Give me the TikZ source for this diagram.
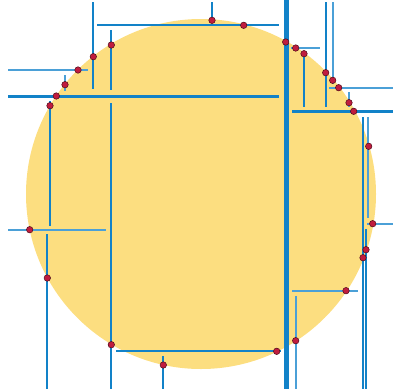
\documentclass[tikz,border=0pt]{standalone}
\usepackage{tikz}
\definecolor{diskyellow}{RGB}{252,222,128}
\definecolor{splitblue}{RGB}{18,130,200}
\definecolor{lightsplit}{RGB}{75,160,215}
\definecolor{pointred}{RGB}{192,28,62}

\begin{document}
\begin{tikzpicture}[x=1pt, y=-1pt,
  splitline/.style={splitblue, line width=#1},
  splitline/.default=1.5pt,
  thinsplit/.style={lightsplit, line width=1.8pt},
  sample/.style={circle, draw=black!60!pointred, fill=pointred, line width=0.5pt, inner sep=0pt, minimum size=6.5pt},
]
  \useasboundingbox (0,0) rectangle (393,389);

  % Sampled disk
  \fill[diskyellow] (201,194) circle (175);

  % Root cut
  \draw[splitline=5pt] (286,0) -- (286,389);

  % Second level
  \draw[splitline=3pt] (8,96) -- (279,96);
  \draw[splitline=3pt] (292,111) -- (393,111);

  % Third level
  \draw[splitline=2pt] (93,2) -- (93,89);
  \draw[splitline=2pt] (111,103) -- (111,389);
  \draw[splitline=2pt] (326,2) -- (326,107);
  \draw[splitline=2pt] (363,117) -- (363,389);

  % Deeper cuts
  \draw[thinsplit] (8,70) -- (88,70);
  \draw[splitline] (97,25) -- (279,25);
  \draw[thinsplit] (8,230) -- (106,230);
  \draw[splitline] (116,351) -- (281,351);
  \draw[thinsplit] (291,48) -- (320,48);
  \draw[thinsplit] (333,2) -- (333,84);
  \draw[thinsplit] (292,291) -- (358,291);
  \draw[thinsplit] (367,224) -- (393,224);

  \draw[thinsplit] (65,75) -- (65,91);
  \draw[splitline] (212,2) -- (212,20);
  \draw[splitline] (111,30) -- (111,90);
  \draw[splitline] (50,101) -- (50,226);
  \draw[splitline] (47,234) -- (47,389);
  \draw[splitline] (163,356) -- (163,389);
  \draw[splitline] (304,53) -- (304,107);
  \draw[thinsplit] (329,88) -- (393,88);
  \draw[thinsplit] (296,296) -- (296,389);
  \draw[thinsplit] (368,117) -- (368,218);
  \draw[thinsplit] (349,92) -- (349,107);
  \draw[splitline] (366,229) -- (366,389);

  % Sample points on the boundary
  \foreach \px/\py [count=\i] in {111.3/45, 93.3/56.7, 78/70, 65/84.7, 56.3/96, 50/105.7,
      212/20.3, 243.7/25.3, 285.7/42, 295.7/48, 304/53.7, 325.7/72.7, 332.7/80.3,
      338.7/87.7, 349/102.7, 353.7/111.3, 29.7/229.7, 368.7/146.3, 372.7/223.7,
      366/249.7, 363/257.7, 47.3/278, 111.3/344.7, 163.3/365, 346/290.7,
      295.7/340.7, 276.7/351.3}
    \node[sample] (p\i) at (\px,\py) {};
\end{tikzpicture}
\end{document}
